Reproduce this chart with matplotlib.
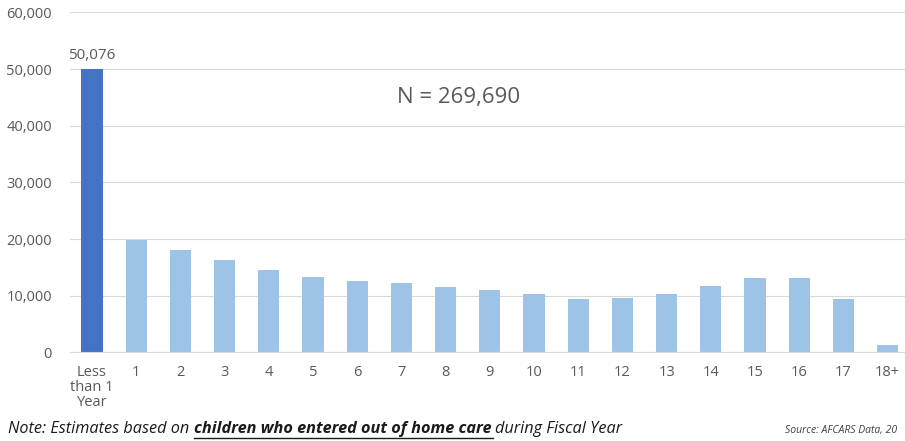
"""Children entering out-of-home care, by age at entry."""

import matplotlib.pyplot as plt
from matplotlib.ticker import FuncFormatter

plt.rcParams["font.family"] = ["Open Sans", "DejaVu Sans"]

# Data
age_labels = ["Less\nthan 1\nYear", "1", "2", "3", "4", "5", "6", "7", "8", "9",
              "10", "11", "12", "13", "14", "15", "16", "17", "18+"]
children = [50076, 19900, 18100, 16300, 14600, 13300, 12700, 12200, 11600, 11000,
            10400, 9450, 9700, 10400, 11800, 13100, 13200, 9400, 1400]
y_ticks = [0, 10000, 20000, 30000, 40000, 50000, 60000]
total_label = "N = 269,690"
note_parts = [
    ("Note: Estimates based on ", "normal", False),
    ("children who entered out of home care ", "bold", True),
    ("during Fiscal Year", "normal", False),
]
source_text = "Source: AFCARS Data, 20"

grid_color = "#D9D9D9"
tick_color = "#595959"
colors = ["#4472C4"] + ["#9DC3E6"] * (len(children) - 1)

fig = plt.figure(figsize=(9.05, 4.41), dpi=100)
ax = fig.add_axes([0.0773, 0.2007, 0.928, 0.771])

x = list(range(len(children)))
ax.bar(x, children, width=0.48, color=colors, edgecolor="none", zorder=2)

ax.set_xlim(-0.5, len(children) - 0.5)
ax.set_ylim(0, 60000)
ax.set_yticks(y_ticks)
ax.yaxis.set_major_formatter(FuncFormatter(lambda v, _: f"{v:,.0f}"))
ax.set_xticks(x)
ax.set_xticklabels(age_labels, linespacing=1.0)
ax.tick_params(axis="both", length=0, colors=tick_color, labelsize=10.5)
ax.tick_params(axis="y", pad=13)
ax.tick_params(axis="x", pad=9)
ax.yaxis.grid(True, color=grid_color, linewidth=0.8, zorder=0)
for side in ["top", "right", "left"]:
    ax.spines[side].set_visible(False)
ax.spines["bottom"].set_color(grid_color)
ax.spines["bottom"].set_linewidth(0.8)

# value label on the first bar
ax.annotate(f"{children[0]:,}", (0, children[0]), xytext=(0, 4),
            textcoords="offset points", ha="center", va="bottom",
            fontsize=11, color=tick_color)

ax.text(0.463, 0.751, total_label, transform=ax.transAxes, ha="center",
        va="center", fontsize=16, color=tick_color)

# note line with an underlined bold piece
fig.canvas.draw()
renderer = fig.canvas.get_renderer()
x_px, y_px = 8, 441 - 429
note_size = 11.7
for text, weight, underline in note_parts:
    t = fig.text(x_px / 905, y_px / 441, text, fontsize=note_size, style="italic",
                 weight=weight, color="#1A1A1A", va="center", ha="left")
    bb = t.get_window_extent(renderer)
    if underline:
        trimmed = fig.text(0, 0, text.rstrip(), fontsize=note_size,
                           style="italic", weight=weight)
        under_w = trimmed.get_window_extent(renderer).width
        trimmed.remove()
        fig.add_artist(plt.Line2D([x_px / 905, (x_px + under_w + 2) / 905],
                                  [(y_px - 8.5) / 441] * 2, color="#1A1A1A",
                                  linewidth=1.0))
    x_px += bb.width

fig.text(785 / 905, (441 - 430) / 441, source_text, fontsize=7.5, style="italic",
         color="#404040", va="center", ha="left")

plt.savefig("out.png", dpi=100)
plt.close()
